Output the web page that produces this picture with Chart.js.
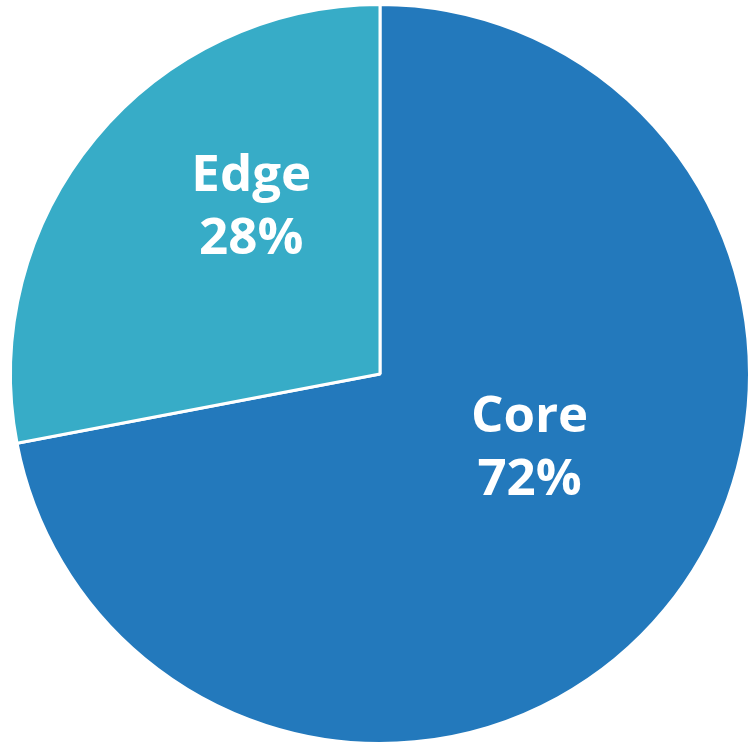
<!DOCTYPE html>
<html>
<head>
<meta charset="utf-8">
<script src="https://cdn.jsdelivr.net/npm/chart.js@4"></script>
<style>
  html, body { margin: 0; padding: 0; background: #fff; overflow: hidden; }
  #wrap { width: 752px; height: 745px; }
</style>
</head>
<body>
<div id="wrap"><canvas id="grafico"></canvas></div>
<script>
const categorias = ['Core', 'Edge'];
const valores = [72, 28];
const cores = ['rgb(35, 121, 188)', 'rgb(55, 172, 199)'];

// onde cada rótulo fica: ângulo (graus, tela) e fração do raio
const rotuloAngulo = [25.9, 232.7];
const rotuloRaio = [0.45, 0.575];

const rotulos = {
    id: 'rotulos',
    afterDatasetsDraw(chart) {
        const ctx = chart.ctx;
        const arcos = chart.getDatasetMeta(0).data;
        ctx.save();
        ctx.fillStyle = '#fff';
        ctx.font = 'bold 51px "Open Sans"';
        ctx.textAlign = 'center';
        ctx.textBaseline = 'middle';
        arcos.forEach((arco, i) => {
            const p = arco.getProps(['x', 'y', 'outerRadius'], true);
            const a = rotuloAngulo[i] * Math.PI / 180;
            const r = p.outerRadius * rotuloRaio[i];
            const x = p.x + r * Math.cos(a);
            const y = p.y + r * Math.sin(a);
            ctx.fillText(categorias[i], x, y - 29);
            ctx.fillText(valores[i] + '%', x, y + 34);
        });
        ctx.restore();
    }
};

new Chart(document.getElementById('grafico'), {
    type: 'pie',
    data: {
        labels: categorias,
        datasets: [{
            data: valores,
            backgroundColor: cores,
            borderColor: '#fff',
            borderWidth: 3
        }]
    },
    options: {
        responsive: true,
        maintainAspectRatio: false,
        animation: false,
        layout: { padding: { left: 9, right: 1, top: 3, bottom: 0 } },
        plugins: {
            legend: { display: false },
            tooltip: { enabled: false }
        }
    },
    plugins: [rotulos]
});
</script>
</body>
</html>
